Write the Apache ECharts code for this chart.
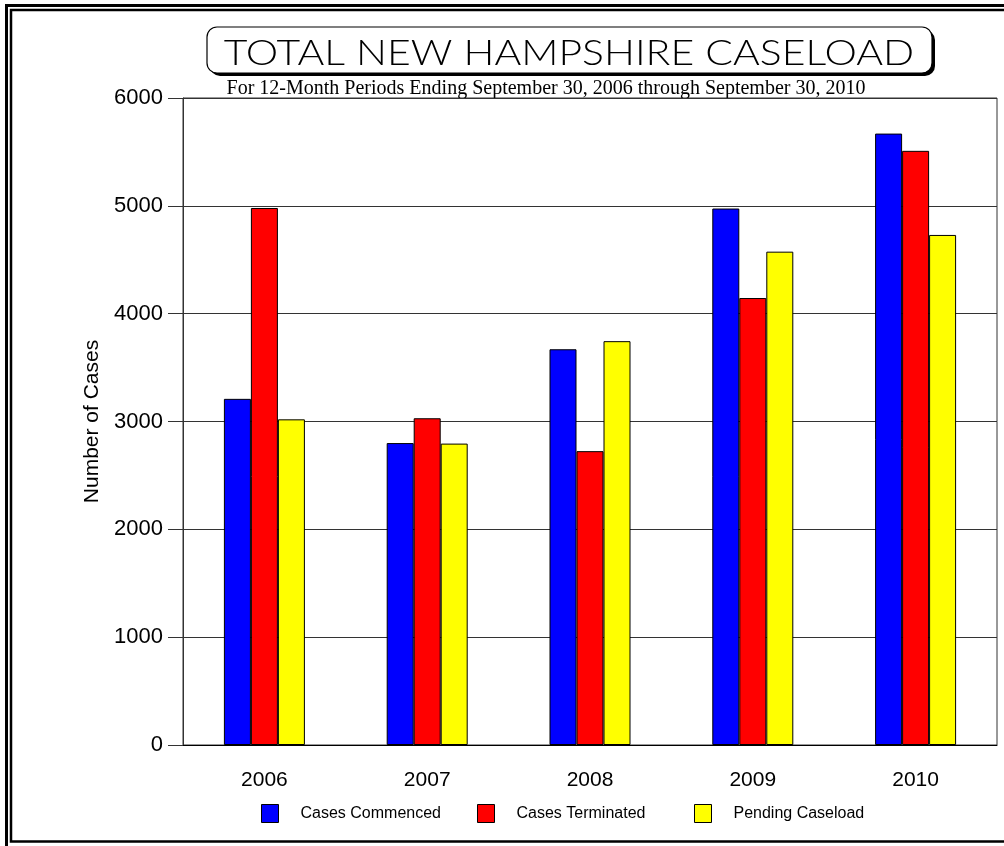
<!DOCTYPE html>
<html><head><meta charset="utf-8">
<script src="https://cdn.jsdelivr.net/npm/echarts@6/dist/echarts.min.js"></script>
<style>html,body{margin:0;padding:0;background:#fff}#c{width:1004px;height:846px}</style>
</head><body><div id="c"></div>
<script>
// ---- data ----
const years = ['2006', '2007', '2008', '2009', '2010'];
const casesCommenced = [3210, 2800, 3670, 4975, 5670];
const casesTerminated = [4980, 3030, 2725, 4145, 5510];
const pendingCaseload = [3020, 2795, 3745, 4575, 4730];
const seriesNames = ['Cases Commenced', 'Cases Terminated', 'Pending Caseload'];
const titleText = 'TOTAL NEW HAMPSHIRE CASELOAD';
const subtitleText = 'For 12-Month Periods Ending September 30, 2006 through September 30, 2010';
const yAxisName = 'Number of Cases';

// ---- styles ----
const colors = ['#0000ff', '#ff0000', '#ffff00'];
const legendLefts = [256, 472, 689];
const sans = 'Liberation Sans, Arial, sans-serif';

const chart = echarts.init(document.getElementById('c'), null, {renderer: 'canvas'});
const seriesData = [casesCommenced, casesTerminated, pendingCaseload];

const option = {
  animation: false,
  backgroundColor: '#fff',
  grid: {left: 183, right: 7, top: 98, bottom: 101, show: true, borderColor: '#333', borderWidth: 1},
  legend: seriesNames.map((n, i) => ({
    data: [n], left: legendLefts[i], top: 799, itemWidth: 17, itemHeight: 18,
    icon: 'rect', itemStyle: {borderColor: '#000', borderWidth: 1},
    textStyle: {fontFamily: sans, fontSize: 16, color: '#000', padding: [0, 0, 0, 17]}
  })),
  xAxis: {
    type: 'category', data: years,
    axisLine: {lineStyle: {color: '#000', width: 1}},
    axisTick: {alignWithLabel: true, length: 12, lineStyle: {color: '#333'}},
    axisLabel: {fontFamily: sans, fontSize: 21, color: '#000', margin: 25}
  },
  yAxis: {
    type: 'value', min: 0, max: 6000, interval: 1000,
    name: yAxisName, nameLocation: 'middle', nameGap: 73, nameRotate: 90,
    nameTextStyle: {fontFamily: sans, fontSize: 21, color: '#000'},
    axisLine: {show: true, lineStyle: {color: '#333', width: 1}},
    axisTick: {show: true, length: 15, lineStyle: {color: '#333'}},
    axisLabel: {fontFamily: sans, fontSize: 22, color: '#000', margin: 20, formatter: v => String(v)},
    splitLine: {show: true, lineStyle: {color: '#333', width: 1}}
  },
  series: seriesNames.map((n, i) => ({
    name: n, type: 'bar', data: seriesData[i], barWidth: 27, barGap: '0%',
    itemStyle: {color: colors[i], borderColor: '#000', borderWidth: 1}
  })),
  graphic: [
    // outer double border
    {type: 'rect', shape: {x: 6.5, y: 5.5, width: 1010, height: 850}, style: {fill: 'none', stroke: '#000', lineWidth: 3}, silent: true},
    {type: 'rect', shape: {x: 11, y: 10, width: 1000, height: 831.5}, style: {fill: 'none', stroke: '#000', lineWidth: 2.5}, silent: true},
    // title box with shadow
    {type: 'rect', shape: {x: 210, y: 30, width: 725, height: 46, r: 10}, style: {fill: '#000'}, silent: true},
    {type: 'rect', shape: {x: 207, y: 27, width: 725, height: 46, r: 10}, style: {fill: '#fff', stroke: '#000', lineWidth: 1.2}, silent: true},
    {type: 'text', x: 569, y: 54, scaleX: 1.17, style: {text: titleText, x: 0, y: 0, align: 'center', verticalAlign: 'middle', font: '300 35px Lato, sans-serif', fill: '#000'}, silent: true},
    {type: 'text', style: {text: subtitleText, x: 546, y: 89, align: 'center', verticalAlign: 'middle', font: '20px "Liberation Serif", "Times New Roman", serif', fill: '#000'}, silent: true}
  ]
};
chart.setOption(option);
</script></body></html>
